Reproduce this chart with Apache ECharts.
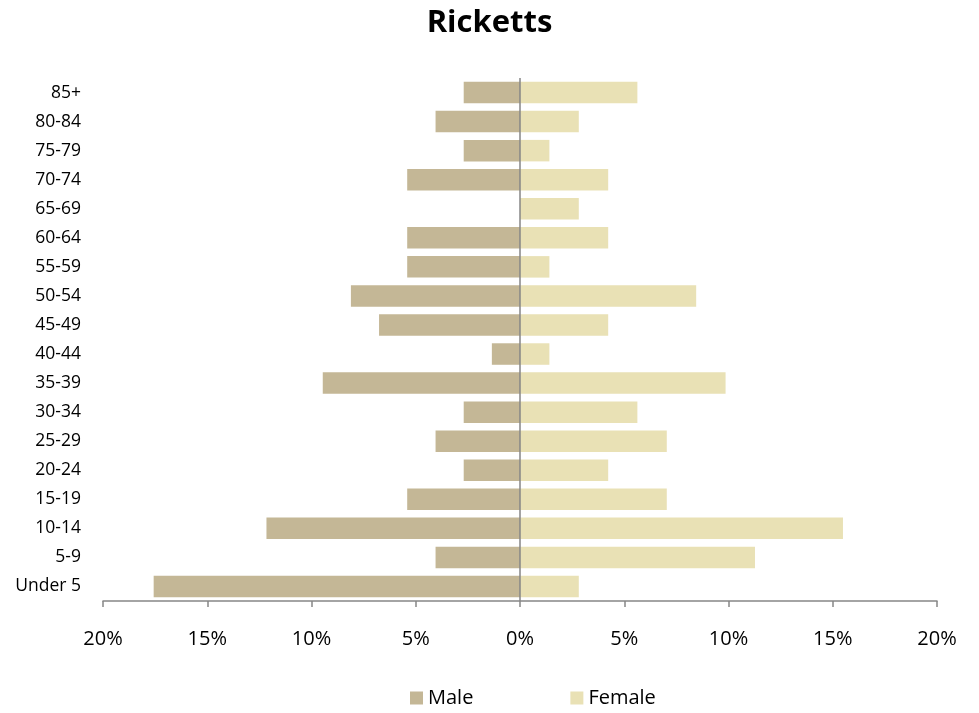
<!DOCTYPE html>
<html><head><meta charset="utf-8">
<script src="https://cdn.jsdelivr.net/npm/echarts@6/dist/echarts.min.js"></script>
<style>html,body{margin:0;padding:0;background:#fff}#c{width:979px;height:713px}</style>
</head><body><div id="c"></div>
<script>
const categories = ["Under 5","5-9","10-14","15-19","20-24","25-29","30-34","35-39","40-44","45-49","50-54","55-59","60-64","65-69","70-74","75-79","80-84","85+"];
const male = [17.57,4.05,12.16,5.41,2.70,4.05,2.70,9.46,1.35,6.76,8.11,5.41,5.41,0,5.41,2.70,4.05,2.70];
const female = [2.82,11.27,15.49,7.04,4.23,7.04,5.63,9.86,1.41,4.23,8.45,1.41,4.23,2.82,4.23,1.41,2.82,5.63];
const xTicks = [-20,-15,-10,-5,0,5,10,15,20];

const font = "'Open Sans', 'Noto Sans', sans-serif";
const chart = echarts.init(document.getElementById('c'));
chart.setOption({
  animation:false,
  title:{text:'Ricketts',left:'center',top:3,textStyle:{fontFamily:font,fontSize:31,fontWeight:'bold',color:'#000'}},
  legend:{bottom:0,left:405,itemGap:97,itemWidth:13,itemHeight:13,icon:'rect',
    textStyle:{fontFamily:font,fontSize:20,color:'#000'},data:['Male','Female']},
  grid:{left:103,right:42,top:78,bottom:112,containLabel:false},
  xAxis:{type:'value',min:xTicks[0],max:xTicks[xTicks.length-1],interval:5,
    axisLine:{show:true,lineStyle:{color:'#868686',width:1.5}},
    axisTick:{show:true,length:6,lineStyle:{color:'#868686',width:1.5}},
    splitLine:{show:false},
    axisLabel:{margin:28,fontFamily:font,fontSize:20,color:'#000',formatter:v=>Math.abs(v)+'%'}},
  yAxis:{type:'category',data:categories,
    axisLine:{show:false},axisTick:{show:false},
    axisLabel:{margin:22,fontFamily:font,fontSize:17.5,color:'#000'}},
  series:[
    {name:'Male',type:'bar',stack:'t',barCategoryGap:'26%',data:male.map(v=>-v),
     itemStyle:{color:'#C4B796'},
     markLine:{silent:true,symbol:'none',label:{show:false},lineStyle:{color:'#868686',width:1.5,type:'solid'},data:[{xAxis:0}]}},
    {name:'Female',type:'bar',stack:'t',barCategoryGap:'26%',data:female,itemStyle:{color:'#E9E1B5'}}
  ]
});
</script></body></html>
